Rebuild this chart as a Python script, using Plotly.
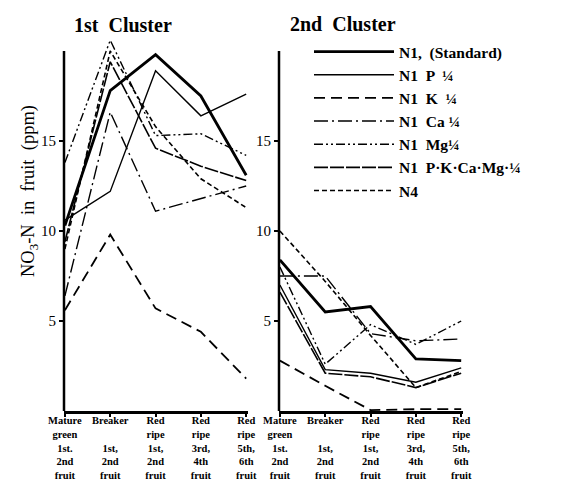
import plotly.graph_objects as go

# ---------------- data ----------------
stage_labels = [
    "Mature<br>green<br>1st.<br>2nd<br>fruit",
    "Breaker<br>\u00a0<br>1st,<br>2nd<br>fruit",
    "Red<br>ripe<br>1st,<br>2nd<br>fruit",
    "Red<br>ripe<br>3rd,<br>4th<br>fruit",
    "Red<br>ripe<br>5th,<br>6th<br>fruit",
]
stage_pos = [0, 1, 2, 3, 4]

series_names = ["N1,  (Standard)", "N1  P  ¼", "N1  K  ¼", "N1  Ca ¼",
                "N1  Mg¼", "N1  P·K·Ca·Mg·¼", "N4"]

# 1st cluster (NO3-N ppm)
c1_standard = [10.3, 17.8, 19.8, 17.5, 13.1]
c1_p = [10.6, 12.2, 18.9, 16.4, 17.6]
c1_k = [5.6, 9.8, 5.7, 4.4, 1.8]
c1_ca = [6.4, 16.6, 11.1, 11.8, 12.5]
c1_mg = [13.8, 20.6, 15.3, 15.4, 14.2]
c1_pkcamg = [9.4, 19.4, 14.6, 13.6, 12.8]
c1_n4 = [9.0, 20.0, 15.8, 12.9, 11.3]

# 2nd cluster
c2_standard = [8.4, 5.5, 5.8, 2.9, 2.8]
c2_p = [7.0, 2.3, 2.1, 1.6, 2.4]
c2_k = [2.8, 1.4, 0.05, 0.1, 0.1]
c2_ca = [7.5, 7.5, 4.3, 3.9, 4.0]
c2_mg = [8.0, 2.6, 4.8, 3.7, 5.0]
c2_pkcamg = [6.6, 2.1, 1.9, 1.3, 2.1]
c2_n4 = [10.0, 7.2, 4.2, 1.3, 2.2]

cluster1 = [c1_standard, c1_p, c1_k, c1_ca, c1_mg, c1_pkcamg, c1_n4]
cluster2 = [c2_standard, c2_p, c2_k, c2_ca, c2_mg, c2_pkcamg, c2_n4]

y_ticks = [5, 10, 15]

# ---------------- styles ----------------
line_styles = [
    dict(width=2.8, dash="solid"),
    dict(width=1.4, dash="solid"),
    dict(width=1.8, dash="11px,6px"),
    dict(width=1.4, dash="14px,4px,2px,4px"),
    dict(width=1.4, dash="9px,3px,2px,3px,2px,3px"),
    dict(width=1.6, dash="14px,2px"),
    dict(width=1.6, dash="5px,3px"),
]

W, H = 573, 483
FONT = "Liberation Serif"

fig = go.Figure()
for i, name in enumerate(series_names):
    st = line_styles[i]
    fig.add_trace(go.Scatter(
        x=stage_pos, y=cluster1[i], mode="lines", name=name,
        legendgroup=name, showlegend=True,
        line=dict(color="black", width=st["width"], dash=st["dash"]),
        xaxis="x", yaxis="y"))
    fig.add_trace(go.Scatter(
        x=stage_pos, y=cluster2[i], mode="lines", name=name,
        legendgroup=name, showlegend=False,
        line=dict(color="black", width=st["width"], dash=st["dash"]),
        xaxis="x2", yaxis="y2"))

xcommon = dict(range=[-0.02, 4.04], tickvals=stage_pos, ticktext=stage_labels,
               showline=True, linewidth=2.5, linecolor="black",
               ticks="outside", ticklen=3, tickwidth=1.5, tickcolor="black",
               ticklabelstandoff=-5, automargin=False,
               showgrid=False, zeroline=False,
               tickfont=dict(family=FONT, size=10.5, color="black", weight="bold"))
ycommon = dict(range=[0, 21], tickvals=y_ticks, showline=False,
               ticks="outside", ticklen=4, tickwidth=1.5, tickcolor="black",
               showgrid=False, zeroline=False, automargin=False,
               tickfont=dict(family=FONT, size=15, color="black"),
               domain=[1 - 403 / H, 1 - 25 / H])

fig.update_layout(
    width=W, height=H,
    margin=dict(l=0, r=0, t=0, b=0),
    paper_bgcolor="white", plot_bgcolor="white",
    xaxis=dict(domain=[56 / W, 240 / W], anchor="y", **xcommon),
    xaxis2=dict(domain=[271 / W, 455 / W], anchor="y2", **xcommon),
    yaxis=dict(anchor="x", **ycommon),
    yaxis2=dict(anchor="x2", **ycommon),
    legend=dict(x=301 / W, y=1 - 27 / H, xanchor="left", yanchor="top",
                bgcolor="rgba(0,0,0,0)", itemwidth=80, tracegroupgap=0,
                font=dict(family=FONT, size=15.5, color="black", weight="bold")),
    shapes=[
        dict(type="line", xref="x domain", x0=0, x1=0, yref="y", y0=0, y1=20,
             line=dict(color="black", width=2.5)),
        dict(type="line", xref="x2 domain", x0=0, x1=0, yref="y2", y0=0, y1=20,
             line=dict(color="black", width=2.5)),
    ],
    annotations=[
        dict(text="1st  Cluster", x=64 / W, y=1 - 17 / H, xref="paper", yref="paper",
             showarrow=False, xanchor="left", yanchor="middle",
             font=dict(family=FONT, size=20, color="black", weight="bold")),
        dict(text="2nd  Cluster", x=280 / W, y=1 - 16 / H, xref="paper", yref="paper",
             showarrow=False, xanchor="left", yanchor="middle",
             font=dict(family=FONT, size=20, color="black", weight="bold")),
        dict(text="NO<sub>3</sub>-N  in  fruit  (ppm)", x=22 / W, y=1 - 183 / H,
             xref="paper", yref="paper", showarrow=False, textangle=-90,
             xanchor="center", yanchor="middle",
             font=dict(family=FONT, size=18.5, color="black")),
    ],
)

fig.write_html("out.html")
